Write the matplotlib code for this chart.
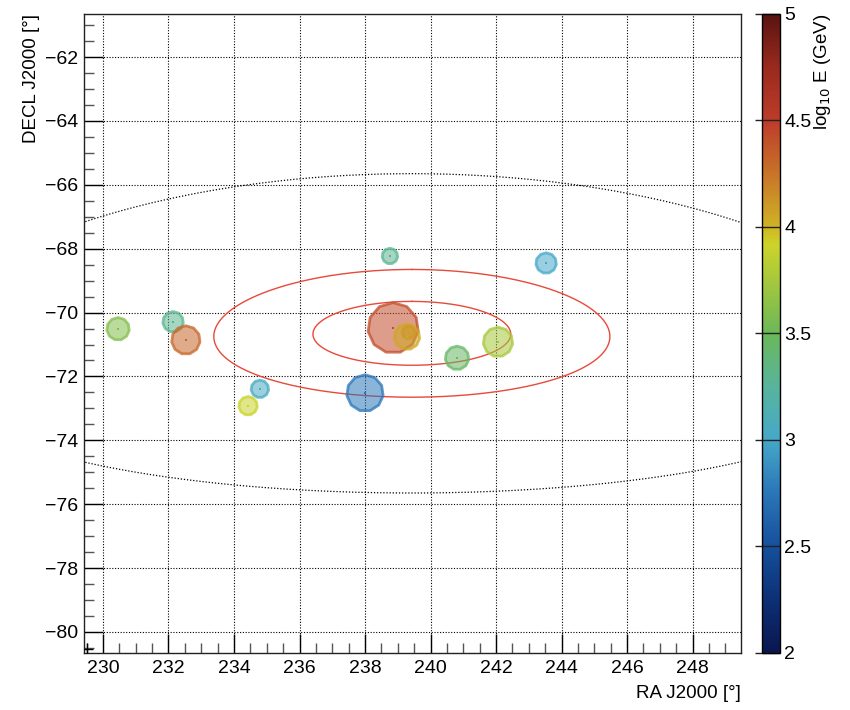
import numpy as np
import matplotlib
matplotlib.use("Agg")
import matplotlib.pyplot as plt
from matplotlib.colors import LinearSegmentedColormap, Normalize
from matplotlib.cm import ScalarMappable
from matplotlib.ticker import MultipleLocator

plt.rcParams['font.family'] = ['Liberation Sans', 'DejaVu Sans']

# events: position, log10 energy and marker radius (px)
ra = [238.86, 239.28, 239.33, 238.76, 243.53, 240.81, 242.06, 238.00,
      230.46, 232.14, 232.53, 234.79, 234.43]
dec = [-70.48, -70.76, -70.62, -68.23, -68.45, -71.42, -70.92, -72.52,
       -70.51, -70.29, -70.86, -72.39, -72.92]
log_e = [4.42, 4.05, 4.10, 3.30, 3.00, 3.45, 3.75, 2.75,
         3.60, 3.30, 4.30, 3.05, 3.90]
radius_px = [26, 13.5, 7, 8.5, 11, 12.5, 15.5, 19,
             12, 11, 15, 9.5, 10]

# source position and containment circles (deg on sky)
src_ra, src_dec = 239.43, -70.65
red_radii = [1.0, 2.0]
black_radius = 5.0

# palette similar to ROOT rainbow
pal = LinearSegmentedColormap.from_list('rootpal', [
    (0.000, '#0a1650'),
    (0.083, '#0c3076'),
    (0.167, '#16509c'),
    (0.250, '#2a76b8'),
    (0.333, '#46a8c8'),
    (0.417, '#58b49c'),
    (0.500, '#6bb858'),
    (0.583, '#a6c83c'),
    (0.640, '#ccd42a'),
    (0.667, '#d0b424'),
    (0.750, '#c8742a'),
    (0.833, '#be3c2a'),
    (0.917, '#9a2a1e'),
    (1.000, '#5a1410'),
])
norm = Normalize(2, 5)


def sky_circle(ra0, dec0, r, n=721):
    # small circle of angular radius r around (ra0, dec0)
    th = np.linspace(0, 2 * np.pi, n)
    d0, rr = np.radians(dec0), np.radians(r)
    d = np.arcsin(np.sin(d0) * np.cos(rr) + np.cos(d0) * np.sin(rr) * np.cos(th))
    dra = np.arctan2(np.sin(th) * np.sin(rr) * np.cos(d0),
                     np.cos(rr) - np.sin(d0) * np.sin(d))
    return ra0 + np.degrees(dra), np.degrees(d)


fig = plt.figure(figsize=(8.5, 7.1), dpi=100)
ax = fig.add_axes([0.0988, 0.0803, 0.7730, 0.9000])

ax.set_xlim(229.42, 249.48)
ax.set_ylim(-80.66, -60.65)

x, y = sky_circle(src_ra, src_dec, black_radius)
ax.plot(x, y, color='black', lw=0.9, ls=(0, (1, 1.5)), zorder=2)
for r in red_radii:
    x, y = sky_circle(src_ra, src_dec, r)
    ax.plot(x, y, color='#e8493a', lw=1.0, zorder=2)

cols = pal(norm(np.array(log_e)))
fc = cols.copy()
fc[:, 3] = 0.55
ec = cols.copy()
ec[:, 3] = 0.75
sizes = (np.array(radius_px) * 2 * 0.72 - 1.0) ** 2
ax.scatter(ra, dec, s=sizes, marker=(11, 0, 0), facecolors=fc, edgecolors=ec,
           linewidths=2.0, zorder=3)
ax.scatter(ra, dec, s=1.5, marker='s', c=cols, zorder=4, lw=0)

ax.plot([229.52], [-80.52], marker='+', color='black', ms=9, mew=1.0, zorder=5)

ax.xaxis.set_major_locator(MultipleLocator(2))
ax.xaxis.set_minor_locator(MultipleLocator(0.5))
ax.yaxis.set_major_locator(MultipleLocator(2))
ax.yaxis.set_minor_locator(MultipleLocator(0.5))
ax.grid(True, which='major', color='black', ls=(0, (1, 1.5)), lw=0.8)
ax.set_axisbelow(True)
ax.tick_params(which='major', direction='in', length=14, width=1.0, labelsize=14,
               top=False, right=False, color='black')
ax.tick_params(which='minor', direction='in', length=7, width=1.0,
               top=False, right=False, color='#555555')
ax.tick_params(axis='x', pad=5)
ax.tick_params(axis='y', pad=4)
for s in ax.spines.values():
    s.set_linewidth(1.0)
    s.set_color('#222222')

ax.set_xlabel('RA J2000 [°]', fontsize=13.5, ha='right', x=1.0, labelpad=6)
ax.set_ylabel('DECL J2000 [°]', fontsize=13.5, ha='right', y=1.0, labelpad=4)

# colour scale
cax = fig.add_axes([0.8965, 0.0803, 0.0212, 0.9000])
cb = fig.colorbar(ScalarMappable(norm=norm, cmap=pal), cax=cax,
                  ticks=[2, 2.5, 3, 3.5, 4, 4.5, 5])
cb.ax.set_yticklabels(['2', '2.5', '3', '3.5', '4', '4.5', '5'])
cb.ax.tick_params(direction='in', length=18, width=1.0, labelsize=14, pad=3,
                  color='#222222')
cb.outline.set_linewidth(1.0)
cb.ax.minorticks_off()
fig.text(0.968, 0.98, r'log$_{10}$ E (GeV)', rotation=90, fontsize=13.5,
         ha='center', va='top')

fig.savefig('out.png', dpi=100)
